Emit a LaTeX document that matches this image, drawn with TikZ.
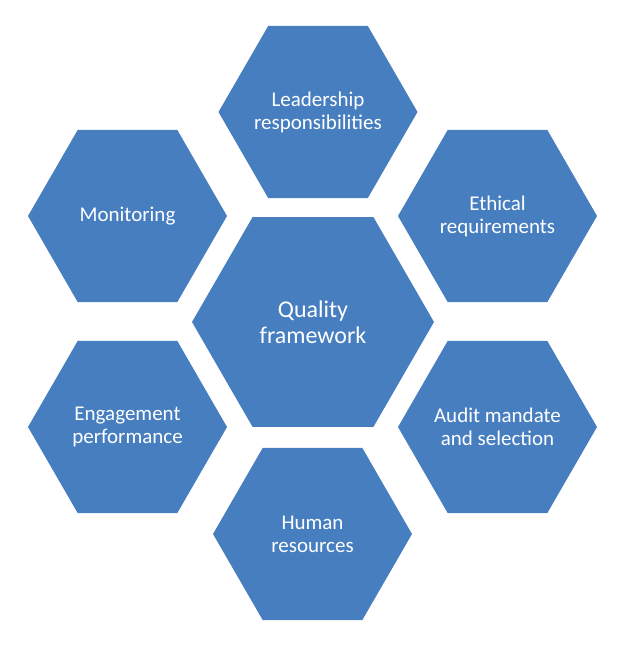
\documentclass[tikz,border=0pt]{standalone}
\usepackage{fontspec}
\setmainfont{Carlito}
\usetikzlibrary{shapes.geometric}
\definecolor{hexblue}{RGB}{70,126,192}
\begin{document}
\begin{tikzpicture}[x=1pt,y=-1pt,
 hextext/.style={text=white,align=center,inner sep=0pt,font=\fontsize{21}{23}\selectfont},
 hexcell/.style={regular polygon,regular polygon sides=6,minimum size=199pt,inner sep=0pt,
   fill=hexblue,label={[hextext]center:#1}},
 hexcore/.style={hexcell,minimum size=242pt,
   label={[hextext,font=\fontsize{24}{26}\selectfont]center:#1}}]
\useasboundingbox (0,0) rectangle (625,648);
\node [hexcore={Quality\\framework}] (quality) at (313,322) {};
\node [hexcell={Leadership\\responsibilities}] (leadership) at (318,112) {};
\node [hexcell={Ethical\\requirements}] (ethical) at (497.5,216) {};
\node [hexcell={Audit mandate\\and selection}] (audit) at (497.5,427) {};
\node [hexcell={Human\\resources}] (human) at (312.5,534) {};
\node [hexcell={Engagement\\performance}] (engagement) at (127.5,427) {};
\node [hexcell=Monitoring] (monitoring) at (127.5,216) {};
\end{tikzpicture}
\end{document}
